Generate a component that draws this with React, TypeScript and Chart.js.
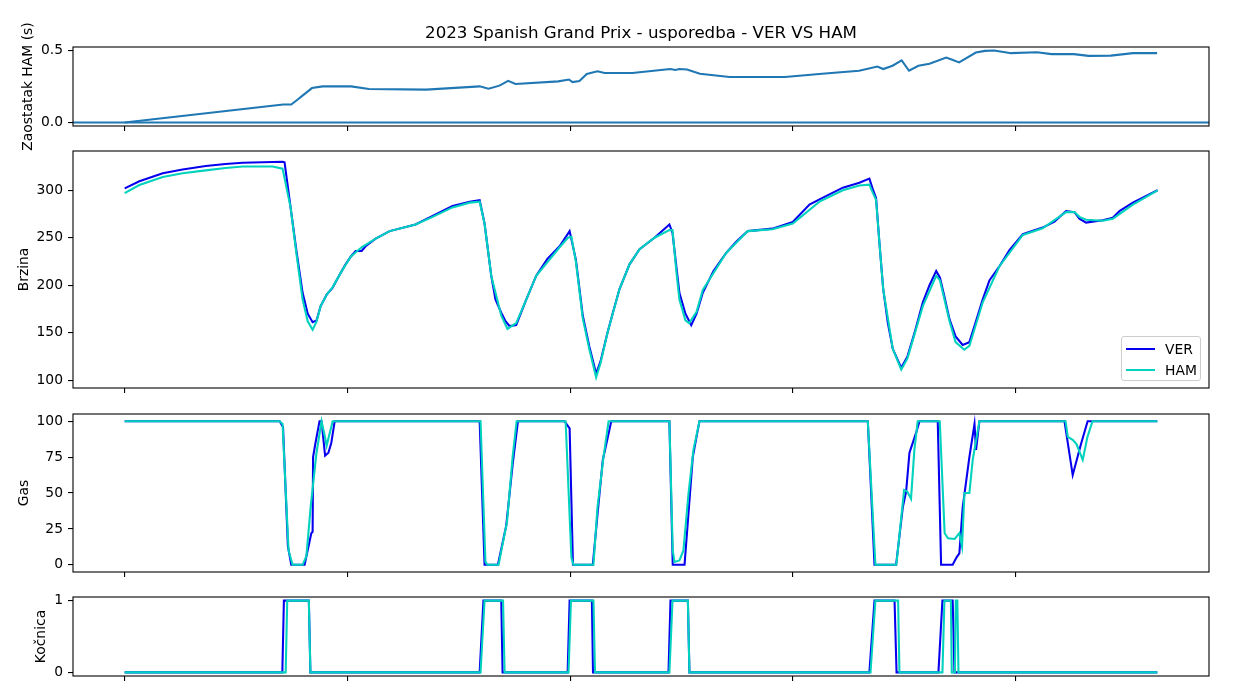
import React, { useEffect, useRef } from "react";
import { Chart, registerables } from "chart.js";

Chart.register(...registerables);

// ---------------- data ----------------
const TITLE = "2023 Spanish Grand Prix - usporedba - VER VS HAM";
const DRIVER_A = "VER";
const DRIVER_B = "HAM";
const Y_LABELS = ["Zaostatak HAM (s)", "Brzina", "Gas", "Kočnica"];

const xTicks = [0, 1000, 2000, 3000, 4000];
const deltaTicks = [0, 0.5];
const speedTicks = [100, 150, 200, 250, 300];
const throttleTicks = [0, 25, 50, 75, 100];
const brakeTicks = [0, 1];

const deltaDist = [0, 712, 748, 777, 793, 841, 889, 1017, 1097, 1354, 1594, 1634, 1683, 1722, 1755, 1947, 1995, 2011, 2042, 2075, 2123, 2155, 2280, 2450, 2473, 2491, 2525, 2583, 2716, 2965, 3132, 3298, 3380, 3406, 3448, 3489, 3522, 3564, 3614, 3689, 3713, 3747, 3822, 3863, 3905, 3980, 4096, 4162, 4262, 4328, 4428, 4528, 4636];
const deltaHam = [0, 0.125, 0.125, 0.16, 0.18, 0.24, 0.252, 0.252, 0.234, 0.229, 0.252, 0.236, 0.257, 0.29, 0.268, 0.287, 0.3, 0.282, 0.29, 0.338, 0.357, 0.345, 0.345, 0.373, 0.366, 0.373, 0.37, 0.34, 0.317, 0.317, 0.34, 0.361, 0.39, 0.373, 0.396, 0.433, 0.361, 0.396, 0.41, 0.453, 0.44, 0.419, 0.488, 0.5, 0.502, 0.484, 0.49, 0.477, 0.477, 0.465, 0.467, 0.484, 0.484];

const verSpeedDist = [0, 66, 171, 260, 364, 453, 530, 709, 718, 745, 772, 799, 822, 844, 862, 880, 907, 934, 947, 970, 992, 1015, 1037, 1064, 1082, 1127, 1190, 1306, 1383, 1472, 1549, 1594, 1616, 1646, 1665, 1691, 1710, 1728, 1758, 1800, 1848, 1899, 1953, 1998, 2026, 2057, 2087, 2117, 2137, 2168, 2191, 2222, 2267, 2312, 2379, 2446, 2460, 2477, 2491, 2518, 2544, 2568, 2596, 2644, 2701, 2747, 2798, 2909, 3000, 3075, 3120, 3225, 3299, 3344, 3358, 3374, 3389, 3406, 3427, 3449, 3487, 3515, 3547, 3584, 3614, 3644, 3661, 3679, 3704, 3731, 3763, 3793, 3820, 3853, 3883, 3928, 3973, 4033, 4122, 4175, 4227, 4265, 4287, 4317, 4392, 4437, 4467, 4527, 4638];
const verSpeed = [302, 309.5, 318, 322, 325.6, 327.7, 329, 330, 329.5, 282, 235, 192, 170, 161, 163, 178, 190, 197.5, 203, 213, 222, 230, 236, 236, 241, 249, 257, 264, 273, 283.5, 288, 289.5, 265, 210, 185, 171, 162, 157, 158, 183, 210, 228, 241, 257, 227, 168, 135, 107, 120, 150, 170, 196, 222, 238, 250, 264, 255, 220, 192, 170, 158, 170, 192, 215, 234, 246, 257, 259.6, 266.6, 285, 290.5, 302.8, 308, 312.3, 302, 292, 245, 196, 160, 133, 113, 125, 150, 182, 200, 215, 208, 190, 164, 146, 137, 140, 160, 185, 205, 220, 237, 253.7, 260.7, 267, 278, 277, 270, 266, 268.4, 271, 278, 287, 300];

const hamSpeedDist = [0, 66, 171, 260, 364, 453, 530, 664, 709, 745, 772, 799, 822, 844, 862, 880, 907, 934, 970, 1015, 1064, 1127, 1190, 1306, 1383, 1472, 1549, 1594, 1616, 1646, 1691, 1719, 1758, 1800, 1848, 1953, 1990, 2006, 2026, 2057, 2087, 2117, 2137, 2168, 2222, 2267, 2312, 2379, 2446, 2460, 2477, 2491, 2518, 2535, 2568, 2596, 2701, 2798, 2909, 3000, 3120, 3225, 3299, 3344, 3358, 3374, 3389, 3406, 3449, 3487, 3515, 3584, 3644, 3661, 3704, 3731, 3770, 3793, 3853, 3928, 4033, 4122, 4227, 4265, 4287, 4317, 4392, 4437, 4527, 4638];
const hamSpeed = [297, 305.6, 314, 318, 321, 323.5, 325, 325, 322.8, 282, 232, 185, 162, 153, 162, 178, 190, 198, 213, 230, 240, 249, 257, 264, 272, 282, 287, 288, 265, 210, 168, 154, 160, 183, 210, 240, 250, 251, 225, 165, 132, 103, 118, 150, 196, 222, 238, 250, 258, 258, 215, 185, 163, 160, 172, 195, 234, 257, 259, 265, 288, 300, 305, 306, 298, 290, 245, 196, 133, 111, 123, 178, 210, 205, 162, 140, 132, 136, 182, 220, 253, 260, 277, 277, 272, 269, 268, 270, 285, 300];

const verThrottleDist = [0, 696, 711, 733, 748, 808, 838, 844, 846, 857, 875, 884, 900, 915, 928, 943, 1594, 1616, 1676, 1713, 1743, 1766, 1975, 1998, 2013, 2102, 2125, 2147, 2185, 2446, 2461, 2514, 2551, 2581, 3337, 3367, 3464, 3494, 3509, 3524, 3554, 3569, 3651, 3666, 3718, 3735, 3748, 3763, 3793, 3816, 3823, 3838, 4220, 4257, 4294, 4324, 4637];
const verThrottle = [100, 100, 96, 13, 0, 0, 22, 23, 75, 85, 100, 100, 76, 78, 85, 100, 100, 0, 0, 27, 71, 100, 100, 95, 0, 0, 38, 73, 100, 100, 0, 0, 75, 100, 100, 0, 0, 40, 51, 78, 92, 100, 100, 0, 0, 5, 8, 40, 75, 98, 80, 100, 100, 62.5, 84, 100, 100];

const hamThrottleDist = [0, 696, 709, 736, 754, 799, 816, 835, 861, 884, 898, 907, 934, 1598, 1620, 1629, 1679, 1717, 1742, 1760, 1980, 2006, 2015, 2105, 2123, 2150, 2173, 2446, 2461, 2469, 2491, 2509, 2532, 2554, 2581, 3337, 3371, 3465, 3500, 3514, 3531, 3546, 3561, 3660, 3682, 3697, 3727, 3748, 3760, 3771, 3793, 3808, 3838, 4225, 4235, 4257, 4274, 4302, 4323, 4346, 4637];
const hamThrottle = [100, 100, 98, 10, 0, 0, 6, 40, 77.5, 100, 90, 83, 100, 100, 2, 0, 0, 30, 75, 100, 100, 5, 0, 0, 40, 75, 100, 100, 10, 2, 3, 10, 50, 80, 100, 100, 0, 0, 52, 51, 46, 80, 100, 100, 22, 18.5, 18, 22, 12.7, 50, 50, 73, 100, 100, 89, 87, 84, 73, 89, 100, 100];

const verBrakeDist = [0, 708, 715, 827, 834, 1594, 1611, 1691, 1697, 1989, 1998, 2098, 2103, 2442, 2451, 2529, 2536, 3344, 3367, 3457, 3466, 3654, 3672, 3718, 3726, 4637];
const verBrake = [0, 0, 1, 1, 0, 0, 1, 1, 0, 0, 1, 1, 0, 0, 1, 1, 0, 0, 1, 1, 0, 0, 1, 1, 0, 0];

const hamBrakeDist = [0, 723, 730, 827, 834, 1598, 1616, 1699, 1706, 1993, 2004, 2105, 2112, 2446, 2460, 2529, 2536, 3349, 3371, 3473, 3479, 3672, 3681, 3710, 3714, 3728, 3732, 3739, 3744, 4637];
const hamBrake = [0, 0, 1, 1, 0, 0, 1, 1, 0, 0, 1, 1, 0, 0, 1, 1, 0, 0, 1, 1, 0, 0, 1, 1, 0, 0, 1, 1, 0, 0];

// ---------------- styling / layout ----------------
const W = 1236;
const H = 697;
const AREA_LEFT = 73;
const AREA_RIGHT = 1209;
const TICK_LEN = 5;
const X_MIN = -232;
const X_MAX = 4869;
const FONT = "'DejaVu Sans', Verdana, sans-serif";
const FS = 13.89;
const VER_COLOR = "#0600ef";
const HAM_COLOR = "#00d2be";
const DELTA_COLOR = "#1f77b4";
const LW = 2.08;

const pts = (xs: number[], ys: number[]) => xs.map((x, i) => ({ x, y: ys[i] }));

const framePlugin = {
  id: "frame",
  afterDraw(chart: any) {
    const { ctx, chartArea: a } = chart;
    ctx.save();
    ctx.strokeStyle = "#000";
    ctx.lineWidth = 1.1;
    ctx.strokeRect(a.left, a.top, a.right - a.left, a.bottom - a.top);
    ctx.restore();
  },
};

type Panel = {
  top: number;
  bottom: number;
  labelX: number;
  label: string;
  yMin: number;
  yMax: number;
  yTicks: number[];
  fmt: (v: number) => string;
  datasets: any[];
};

const line = (data: any[], color: string, order: number, label: string) => ({
  label,
  data,
  borderColor: color,
  backgroundColor: color,
  borderWidth: LW,
  pointRadius: 0,
  fill: false,
  tension: 0,
  order,
});

const panels: Panel[] = [
  {
    top: 47,
    bottom: 126,
    labelX: 28.5,
    label: Y_LABELS[0],
    yMin: -0.025,
    yMax: 0.527,
    yTicks: deltaTicks,
    fmt: (v) => v.toFixed(1),
    datasets: [
      line(pts(deltaDist, deltaHam), DELTA_COLOR, 1, "delta"),
      line([{ x: X_MIN, y: 0 }, { x: X_MAX, y: 0 }], DELTA_COLOR, 0, "zero"),
    ],
  },
  {
    top: 151,
    bottom: 388,
    labelX: 24,
    label: Y_LABELS[1],
    yMin: 91.7,
    yMax: 341.4,
    yTicks: speedTicks,
    fmt: (v) => String(Math.round(v)),
    datasets: [
      line(pts(verSpeedDist, verSpeed), VER_COLOR, 1, DRIVER_A),
      line(pts(hamSpeedDist, hamSpeed), HAM_COLOR, 0, DRIVER_B),
    ],
  },
  {
    top: 414,
    bottom: 572,
    labelX: 24,
    label: Y_LABELS[2],
    yMin: -5,
    yMax: 105,
    yTicks: throttleTicks,
    fmt: (v) => String(Math.round(v)),
    datasets: [
      line(pts(verThrottleDist, verThrottle), VER_COLOR, 1, DRIVER_A),
      line(pts(hamThrottleDist, hamThrottle), HAM_COLOR, 0, DRIVER_B),
    ],
  },
  {
    top: 597,
    bottom: 676,
    labelX: 41,
    label: Y_LABELS[3],
    yMin: -0.05,
    yMax: 1.05,
    yTicks: brakeTicks,
    fmt: (v) => String(Math.round(v)),
    datasets: [
      line(pts(verBrakeDist, verBrake), VER_COLOR, 1, DRIVER_A),
      line(pts(hamBrakeDist, hamBrake), HAM_COLOR, 0, DRIVER_B),
    ],
  },
];

function makeChart(canvas: HTMLCanvasElement, p: Panel) {
  const lineHeight = FS * 1.2;
  const padLeft = p.labelX - lineHeight / 2;
  const gridOpts = {
    drawOnChartArea: false,
    drawTicks: true,
    tickLength: TICK_LEN,
    color: "#000",
    tickColor: "#000",
    lineWidth: 1.1,
  };
  return new Chart(canvas, {
    type: "line",
    data: { datasets: p.datasets },
    options: {
      animation: false,
      responsive: false,
      maintainAspectRatio: false,
      devicePixelRatio: 1,
      events: [],
      layout: {
        padding: {
          left: padLeft,
          right: W - AREA_RIGHT,
          top: p.top,
          bottom: H - p.bottom - TICK_LEN,
        },
      },
      plugins: {
        legend: { display: false },
        tooltip: { enabled: false },
        title: { display: false },
      },
      scales: {
        x: {
          type: "linear",
          min: X_MIN,
          max: X_MAX,
          bounds: "data",
          border: { display: false },
          grid: gridOpts,
          ticks: { display: false },
          afterBuildTicks: (ax: any) => {
            ax.ticks = xTicks.map((v) => ({ value: v }));
          },
          afterFit: (ax: any) => {
            ax.height = TICK_LEN;
          },
        },
        y: {
          type: "linear",
          min: p.yMin,
          max: p.yMax,
          bounds: "data",
          border: { display: false },
          grid: gridOpts,
          ticks: {
            padding: 5,
            color: "#000",
            font: { family: FONT, size: FS },
            callback: (v: any) => p.fmt(Number(v)),
          },
          afterBuildTicks: (ax: any) => {
            ax.ticks = p.yTicks.map((v) => ({ value: v }));
          },
          afterFit: (ax: any) => {
            ax.width = AREA_LEFT - padLeft;
          },
          title: {
            display: true,
            text: p.label,
            color: "#000",
            padding: 0,
            font: { family: FONT, size: FS },
          },
        },
      },
    } as any,
    plugins: [framePlugin],
  });
}

function Panel({ p }: { p: Panel }) {
  const ref = useRef<HTMLCanvasElement>(null);
  useEffect(() => {
    if (!ref.current) return;
    const c = makeChart(ref.current, p);
    return () => c.destroy();
  }, []);
  return (
    <canvas
      ref={ref}
      width={W}
      height={H}
      style={{ position: "absolute", left: 0, top: 0, width: W, height: H }}
    />
  );
}

export default function App() {
  return (
    <div
      style={{
        position: "fixed",
        left: 0,
        top: 0,
        width: W,
        height: H,
        background: "#fff",
        overflow: "hidden",
        fontFamily: FONT,
      }}
    >
      {panels.map((p, i) => (
        <Panel key={i} p={p} />
      ))}
      <div
        style={{
          position: "absolute",
          left: AREA_LEFT,
          width: AREA_RIGHT - AREA_LEFT,
          top: 22,
          height: 22,
          lineHeight: "22px",
          textAlign: "center",
          fontSize: 16.67,
          color: "#000",
          whiteSpace: "nowrap",
        }}
      >
        {TITLE}
      </div>
      <div
        style={{
          position: "absolute",
          left: 1121,
          top: 336,
          width: 80,
          height: 45,
          boxSizing: "border-box",
          border: "1px solid #cccccc",
          borderRadius: 3,
          background: "rgba(255,255,255,0.8)",
        }}
      >
        {[
          { name: DRIVER_A, color: VER_COLOR, cy: 12 },
          { name: DRIVER_B, color: HAM_COLOR, cy: 33 },
        ].map((it) => (
          <React.Fragment key={it.name}>
            <div
              style={{
                position: "absolute",
                left: 4,
                top: it.cy - 1,
                width: 29,
                height: 2,
                background: it.color,
              }}
            />
            <div
              style={{
                position: "absolute",
                left: 43,
                top: it.cy - 9,
                height: 18,
                lineHeight: "18px",
                fontSize: FS,
                color: "#000",
                whiteSpace: "nowrap",
              }}
            >
              {it.name}
            </div>
          </React.Fragment>
        ))}
      </div>
    </div>
  );
}
